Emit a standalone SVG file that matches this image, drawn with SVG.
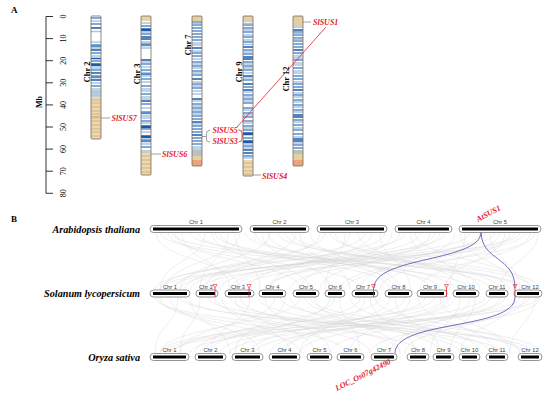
<svg xmlns="http://www.w3.org/2000/svg" width="550" height="399" viewBox="0 0 550 399">
<style>
.lab{font-family:"Liberation Serif",serif;font-weight:bold;fill:#000}
.ax{font-family:"Liberation Serif",serif;font-size:8px;fill:#000;text-anchor:middle}
.gene{font-family:"Liberation Serif",serif;font-weight:bold;font-style:italic;font-size:8px;fill:#e3202c}
.sp{font-family:"Liberation Serif",serif;font-weight:bold;font-style:italic;font-size:10.2px;text-anchor:end;fill:#000}
.cl{font-family:"Liberation Sans",Arial,sans-serif;font-size:5.8px;fill:#444;text-anchor:middle}
.cb{fill:none;stroke:#7a6a5a;stroke-width:0.8}
.d{stroke:#1c5aa6;stroke-width:1.3;fill:none}
.m{stroke:#5b8fca;stroke-width:1.3;fill:none}
.l{stroke:#aac6e4;stroke-width:1.3;fill:none}
.u{stroke:#d2b283;stroke-width:1;fill:none}
.bo{fill:#fff;stroke:#666;stroke-width:0.7}
.bi{fill:#000}
.syn{fill:none;stroke:#d4d4d4;stroke-width:0.5;opacity:0.75}
.blue{fill:none;stroke:#4a4ab0;stroke-width:0.8}
.tri{fill:none;stroke:#e3202c;stroke-width:0.6}
.gl{stroke:#777;stroke-width:0.7;fill:none}
.rl{stroke:#e3202c;stroke-width:0.8;fill:none}
</style>
<rect width="550" height="399" fill="#fff"/>

<!-- Panel A -->
<text class="lab" x="11" y="13" font-size="9">A</text>
<g id="axis">
<path d="M46 16.5V193.3M46 16.5h7M46 38.6h7M46 60.7h7M46 82.8h7M46 104.9h7M46 127h7M46 149.1h7M46 171.2h7M46 193.3h7" stroke="#000" stroke-width="0.8" fill="none"/>
<text class="ax" transform="translate(66,16.5) rotate(-90)">0</text>
<text class="ax" transform="translate(66,38.6) rotate(-90)">10</text>
<text class="ax" transform="translate(66,60.7) rotate(-90)">20</text>
<text class="ax" transform="translate(66,82.8) rotate(-90)">30</text>
<text class="ax" transform="translate(66,104.9) rotate(-90)">40</text>
<text class="ax" transform="translate(66,127) rotate(-90)">50</text>
<text class="ax" transform="translate(66,149.1) rotate(-90)">60</text>
<text class="ax" transform="translate(66,171.2) rotate(-90)">70</text>
<text class="ax" transform="translate(66,193.3) rotate(-90)">80</text>
<text class="lab" font-size="8" text-anchor="middle" transform="translate(42,102) rotate(-90)">Mb</text>
</g>

<g id="chrA2">
<rect x="91" y="16" width="10" height="123" fill="#fff"/>
<rect x="91" y="97" width="10" height="42" fill="#ecd9b0"/>
<rect x="91" y="90" width="10" height="7" fill="#c3cfd8"/>
<path class="d" d="M91 28h10M91 50h10M91 58.5h10M91 64h10M91 65.5h10M91 73h10M91 80h10"/>
<path class="m" d="M91 18h10M91 24h10M91 45h10M91 46.5h10M91 53h10M91 61h10M91 70h10M91 76h10M91 77.5h10M91 86h10"/>
<path class="l" d="M91 21h10M91 31.5h10M91 42h10M91 48h10M91 56h10M91 68h10M91 83h10M91 89h10M91 92h10M91 95h10"/>
<path class="u" d="M91 100h10M91 103h10M91 107h10M91 111h10M91 114h10M91 116.5h10M91 118h10M91 121h10M91 125h10M91 129h10M91 132h10M91 136h10"/>
<rect class="cb" x="91" y="16" width="10" height="123" rx="1"/>
<text class="lab" font-size="8.5" text-anchor="middle" transform="translate(90,72) rotate(-90)">Chr 2</text>
</g>

<g id="chrA3">
<rect x="141" y="16" width="10" height="159" fill="#fff"/>
<rect x="141" y="16" width="10" height="5" fill="#e6d3a8"/>
<rect x="141" y="153" width="10" height="22" fill="#ecd9b0"/>
<rect x="141" y="150" width="10" height="3" fill="#c3cfd8"/>
<path class="d" d="M141 29h10M141 30.5h10M141 37h10M141 39h10M141 60h10M141 74h10M141 101h10M141 126h10M141 127.5h10M141 136h10M141 137.5h10"/>
<path class="m" d="M141 26h10M141 34h10M141 44h10M141 45.5h10M141 64h10M141 70h10M141 79h10M141 86h10M141 94h10M141 104h10M141 112h10M141 113.5h10M141 121h10M141 129h10M141 140h10M141 141.5h10M141 147h10"/>
<path class="l" d="M141 23h10M141 32h10M141 42h10M141 48h10M141 62h10M141 67h10M141 72.5h10M141 76h10M141 82h10M141 89h10M141 91h10M141 97h10M141 99h10M141 108h10M141 116h10M141 118h10M141 123h10M141 132h10M141 144h10"/>
<path class="u" d="M141 156h10M141 160h10M141 164h10M141 168h10M141 172h10"/>
<rect class="cb" x="141" y="16" width="10" height="159" rx="1"/>
<text class="lab" font-size="8.5" text-anchor="middle" transform="translate(139.5,74) rotate(-90)">Chr 3</text>
</g>

<g id="chrA7">
<rect x="192" y="16" width="10" height="150" fill="#fff"/>
<rect x="192" y="16" width="10" height="5" fill="#e3cfa3"/>
<rect x="192" y="150" width="10" height="6" fill="#b8c0c0"/>
<rect x="192" y="156" width="10" height="4" fill="#e6cfa0"/>
<rect x="192" y="160" width="10" height="6" fill="#eea27a"/>
<path class="d" d="M192 48h10M192 79h10M192 99h10M192 122h10M192 135h10"/>
<path class="m" d="M192 22h10M192 25h10M192 28h10M192 31h10M192 34h10M192 37h10M192 40h10M192 53h10M192 56h10M192 62h10M192 66h10M192 71h10M192 75h10M192 84h10M192 88h10M192 104h10M192 108h10M192 112h10M192 116h10M192 119h10M192 126h10M192 129h10M192 132h10M192 138h10M192 141h10M192 144h10"/>
<path class="l" d="M192 23.5h10M192 43h10M192 45h10M192 51h10M192 59h10M192 64h10M192 68h10M192 73h10M192 82h10M192 86h10M192 91h10M192 94h10M192 101h10M192 106h10M192 110h10M192 114h10M192 124h10M192 147h10M192 149h10"/>
<rect class="cb" x="192" y="16" width="10" height="150" rx="1"/>
<text class="lab" font-size="8.5" text-anchor="middle" transform="translate(191,45) rotate(-90)">Chr 7</text>
</g>

<g id="chrA9">
<rect x="243" y="16" width="10" height="160" fill="#fff"/>
<rect x="243" y="16" width="10" height="6" fill="#e3cfa3"/>
<rect x="243" y="160" width="10" height="16" fill="#ecd9b0"/>
<path class="d" d="M243 47h10M243 57h10M243 59h10M243 76h10M243 84h10M243 90h10M243 133h10M243 134.5h10M243 141h10M243 142.5h10M243 150h10M243 153h10"/>
<path class="m" d="M243 25h10M243 28h10M243 32h10M243 37h10M243 42h10M243 50h10M243 54h10M243 62h10M243 66h10M243 70h10M243 80h10M243 87h10M243 95h10M243 99h10M243 103h10M243 108h10M243 113h10M243 117h10M243 121h10M243 126h10M243 130h10M243 138h10M243 146h10M243 156h10"/>
<path class="l" d="M243 23.5h10M243 30h10M243 35h10M243 40h10M243 44.5h10M243 52h10M243 64h10M243 68h10M243 73h10M243 78h10M243 92h10M243 97h10M243 101h10M243 110h10M243 115h10M243 123h10M243 128h10M243 144h10M243 148h10M243 158h10"/>
<path class="u" d="M243 163h10M243 167h10M243 171h10M243 174h10"/>
<rect class="cb" x="243" y="16" width="10" height="160" rx="1"/>
<text class="lab" font-size="8.5" text-anchor="middle" transform="translate(241.5,72) rotate(-90)">Chr 9</text>
</g>

<g id="chrA12">
<rect x="293" y="16" width="10" height="150" fill="#fff"/>
<rect x="293" y="16" width="10" height="10" fill="#e3cfa3"/>
<rect x="293" y="26" width="10" height="2" fill="#c3cfd8"/>
<rect x="293" y="150" width="10" height="4" fill="#b5c7b3"/>
<rect x="293" y="154" width="10" height="6" fill="#e6cfa0"/>
<rect x="293" y="160" width="10" height="6" fill="#eea27a"/>
<path class="d" d="M293 30h10M293 50h10M293 90h10M293 115h10M293 117h10M293 139h10M293 141h10"/>
<path class="m" d="M293 32h10M293 35h10M293 38h10M293 41h10M293 44h10M293 47h10M293 53h10M293 60h10M293 68h10M293 76h10M293 79h10M293 84h10M293 87h10M293 95h10M293 100h10M293 105h10M293 110h10M293 120h10M293 125h10M293 130h10M293 134h10M293 145h10M293 148h10"/>
<path class="l" d="M293 33.5h10M293 39.5h10M293 56h10M293 58h10M293 63h10M293 65h10M293 71h10M293 73h10M293 82h10M293 93h10M293 97h10M293 102h10M293 107h10M293 112h10M293 122h10M293 128h10M293 137h10M293 143h10"/>
<rect class="cb" x="293" y="16" width="10" height="150" rx="1"/>
<text class="lab" font-size="8.5" text-anchor="middle" transform="translate(288.5,79) rotate(-90)">Chr 12</text>
</g>

<g id="genesA">
<path class="gl" d="M101 118h9M151 154h10M303 22h8M253 175h8"/>
<text class="gene" x="111.5" y="121">SlSUS7</text>
<text class="gene" x="162" y="157">SlSUS6</text>
<text class="gene" x="313" y="25">SlSUS1</text>
<text class="gene" x="262" y="178.5">SlSUS4</text>
<text class="gene" x="212.5" y="133">SlSUS5</text>
<text class="gene" x="212.5" y="144">SlSUS3</text>
<path class="gl" d="M202 136.5h4M210 130.5Q206.5 130.5 206.5 133V140Q206.5 142 210 142"/>
<path class="rl" d="M238.5 130Q242 130 242 133V139Q242 142 238.5 142M242 136h1"/>
<path class="rl" d="M237 127L326 27"/>
</g>

<!-- Panel B -->
<text class="lab" x="11" y="222" font-size="9">B</text>
<text class="sp" x="140" y="232.5">Arabidopsis thaliana</text>
<text class="sp" x="140" y="296.5">Solanum lycopersicum</text>
<text class="sp" x="140" y="360.5">Oryza sativa</text>

<g id="connectors">
<path class="syn" d="M160 232.5C160 261 470 261 470 290M175 232.5C175 261 300 261 300 290M190 232.5C190 261 520 261 520 290M205 232.5C205 261 160 261 160 290M220 232.5C220 261 390 261 390 290M235 232.5C235 261 260 261 260 290M255 232.5C255 261 430 261 430 290M270 232.5C270 261 180 261 180 290M285 232.5C285 261 500 261 500 290M300 232.5C300 261 350 261 350 290M320 232.5C320 261 210 261 210 290M335 232.5C335 261 480 261 480 290M350 232.5C350 261 270 261 270 290M365 232.5C365 261 160 261 160 290M380 232.5C380 261 410 261 410 290M400 232.5C400 261 230 261 230 290M415 232.5C415 261 530 261 530 290M430 232.5C430 261 320 261 320 290M445 232.5C445 261 190 261 190 290M465 232.5C465 261 450 261 450 290M480 232.5C480 261 290 261 290 290M495 232.5C495 261 170 261 170 290M510 232.5C510 261 380 261 380 290M525 232.5C525 261 240 261 240 290M538 232.5C538 261 500 261 500 290M168 232.5C168 261 360 261 360 290M198 232.5C198 261 440 261 440 290M228 232.5C228 261 200 261 200 290M262 232.5C262 261 330 261 330 290M292 232.5C292 261 510 261 510 290M325 232.5C325 261 175 261 175 290M358 232.5C358 261 460 261 460 290M392 232.5C392 261 300 261 300 290M420 232.5C420 261 220 261 220 290M455 232.5C455 261 360 261 360 290M490 232.5C490 261 520 261 520 290M515 232.5C515 261 200 261 200 290M530 232.5C530 261 420 261 420 290M245 232.5C245 261 490 261 490 290M310 232.5C310 261 400 261 400 290M372 232.5C372 261 250 261 250 290M440 232.5C440 261 270 261 270 290M470 232.5C470 261 180 261 180 290M182 232.5C182 261 230 261 230 290M212 232.5C212 261 310 261 310 290M278 232.5C278 261 535 261 535 290M405 232.5C405 261 155 261 155 290M500 232.5C500 261 340 261 340 290"/>
<path class="syn" d="M156 232.5C156 261 240 261 240 290M172 232.5C172 261 525 261 525 290M215 232.5C215 261 455 261 455 290M240 232.5C240 261 165 261 165 290M268 232.5C268 261 395 261 395 290M296 232.5C296 261 205 261 205 290M330 232.5C330 261 540 261 540 290M345 232.5C345 261 325 261 325 290M385 232.5C385 261 185 261 185 290M410 232.5C410 261 470 261 470 290M435 232.5C435 261 235 261 235 290M460 232.5C460 261 515 261 515 290M485 232.5C485 261 265 261 265 290M505 232.5C505 261 445 261 445 290M520 232.5C520 261 160 261 160 290M535 232.5C535 261 345 261 345 290"/>
<path class="syn" d="M155 297C155 325 420 325 420 353.5M170 297C170 325 260 325 260 353.5M185 297C185 325 500 325 500 353.5M200 297C200 325 180 325 180 353.5M215 297C215 325 370 325 370 353.5M230 297C230 325 460 325 460 353.5M250 297C250 325 210 325 210 353.5M265 297C265 325 330 325 330 353.5M280 297C280 325 520 325 520 353.5M300 297C300 325 160 325 160 353.5M315 297C315 325 400 325 400 353.5M330 297C330 325 240 325 240 353.5M350 297C350 325 480 325 480 353.5M365 297C365 325 300 325 300 353.5M380 297C380 325 175 325 175 353.5M395 297C395 325 440 325 440 353.5M410 297C410 325 350 325 350 353.5M425 297C425 325 200 325 200 353.5M440 297C440 325 510 325 510 353.5M455 297C455 325 280 325 280 353.5M470 297C470 325 390 325 390 353.5M485 297C485 325 165 325 165 353.5M500 297C500 325 330 325 330 353.5M515 297C515 325 460 325 460 353.5M530 297C530 325 230 325 230 353.5M540 297C540 325 370 325 370 353.5M160 297C160 325 300 325 300 353.5M190 297C190 325 230 325 230 353.5M240 297C240 325 400 325 400 353.5M275 297C275 325 180 325 180 353.5M305 297C305 325 490 325 490 353.5M340 297C340 325 360 325 360 353.5M375 297C375 325 520 325 520 353.5M405 297C405 325 250 325 250 353.5M435 297C435 325 160 325 160 353.5M460 297C460 325 430 325 430 353.5M490 297C490 325 300 325 300 353.5M520 297C520 325 190 325 190 353.5M535 297C535 325 510 325 510 353.5M222 297C222 325 290 325 290 353.5M290 297C290 325 440 325 440 353.5M360 297C360 325 210 325 210 353.5M180 297C180 325 535 325 535 353.5M450 297C450 325 270 325 270 353.5"/>
<path class="syn" d="M158 297C158 325 345 325 345 353.5M178 297C178 325 155 325 155 353.5M208 297C208 325 525 325 525 353.5M235 297C235 325 315 325 315 353.5M258 297C258 325 470 325 470 353.5M285 297C285 325 235 325 235 353.5M310 297C310 325 540 325 540 353.5M335 297C335 325 195 325 195 353.5M370 297C370 325 415 325 415 353.5M390 297C390 325 285 325 285 353.5M418 297C418 325 495 325 495 353.5M445 297C445 325 220 325 220 353.5M475 297C475 325 450 325 450 353.5M505 297C505 325 255 325 255 353.5M525 297C525 325 405 325 405 353.5M538 297C538 325 170 325 170 353.5"/>
<path class="blue" d="M481 232C481 262 374 256 374 288M481 232C482 262 515 256 515 288M515 297C515 330 395 320 395 353"/>
</g>

<g id="rowAt">
<rect class="bo" x="150" y="225.5" width="92" height="7" rx="3.5"/><rect class="bi" x="153" y="227.5" width="86" height="3"/><text class="cl" x="196" y="224">Chr 1</text>
<rect class="bo" x="250" y="225.5" width="59" height="7" rx="3.5"/><rect class="bi" x="253" y="227.5" width="53" height="3"/><text class="cl" x="279.5" y="224">Chr 2</text>
<rect class="bo" x="317" y="225.5" width="70" height="7" rx="3.5"/><rect class="bi" x="320" y="227.5" width="64" height="3"/><text class="cl" x="352" y="224">Chr 3</text>
<rect class="bo" x="395" y="225.5" width="57" height="7" rx="3.5"/><rect class="bi" x="398" y="227.5" width="51" height="3"/><text class="cl" x="423.5" y="224">Chr 4</text>
<rect class="bo" x="459" y="225.5" width="82" height="7" rx="3.5"/><rect class="bi" x="462" y="227.5" width="76" height="3"/><text class="cl" x="500" y="224">Chr 5</text>
</g>

<g id="rowSl">
<rect class="bo" x="150" y="290" width="40" height="7" rx="3.5"/><rect class="bi" x="153" y="292" width="34" height="3"/><text class="cl" x="170" y="288.5">Chr 1</text>
<rect class="bo" x="196" y="290" width="22" height="7" rx="3.5"/><rect class="bi" x="199" y="292" width="16" height="3"/><text class="cl" x="206" y="288.5">Chr 2</text>
<rect class="bo" x="225" y="290" width="29" height="7" rx="3.5"/><rect class="bi" x="228" y="292" width="23" height="3"/><text class="cl" x="238" y="288.5">Chr 3</text>
<rect class="bo" x="259" y="290" width="27" height="7" rx="3.5"/><rect class="bi" x="262" y="292" width="21" height="3"/><text class="cl" x="272.5" y="288.5">Chr 4</text>
<rect class="bo" x="293" y="290" width="26" height="7" rx="3.5"/><rect class="bi" x="296" y="292" width="20" height="3"/><text class="cl" x="306" y="288.5">Chr 5</text>
<rect class="bo" x="325" y="290" width="20" height="7" rx="3.5"/><rect class="bi" x="328" y="292" width="14" height="3"/><text class="cl" x="335" y="288.5">Chr 6</text>
<rect class="bo" x="352" y="290" width="26" height="7" rx="3.5"/><rect class="bi" x="355" y="292" width="20" height="3"/><text class="cl" x="363" y="288.5">Chr 7</text>
<rect class="bo" x="385" y="290" width="27" height="7" rx="3.5"/><rect class="bi" x="388" y="292" width="21" height="3"/><text class="cl" x="398.5" y="288.5">Chr 8</text>
<rect class="bo" x="417" y="290" width="30" height="7" rx="3.5"/><rect class="bi" x="420" y="292" width="24" height="3"/><text class="cl" x="430" y="288.5">Chr 9</text>
<rect class="bo" x="453" y="290" width="26" height="7" rx="3.5"/><rect class="bi" x="456" y="292" width="20" height="3"/><text class="cl" x="466" y="288.5">Chr 10</text>
<rect class="bo" x="486" y="290" width="22" height="7" rx="3.5"/><rect class="bi" x="489" y="292" width="16" height="3"/><text class="cl" x="497" y="288.5">Chr 11</text>
<rect class="bo" x="514" y="290" width="28" height="7" rx="3.5"/><rect class="bi" x="517" y="292" width="22" height="3"/><text class="cl" x="530" y="288.5">Chr 12</text>
</g>

<g id="rowOs">
<rect class="bo" x="150" y="353.5" width="39" height="7" rx="3.5"/><rect class="bi" x="153" y="355.5" width="33" height="3"/><text class="cl" x="169.5" y="352">Chr 1</text>
<rect class="bo" x="195" y="353.5" width="31" height="7" rx="3.5"/><rect class="bi" x="198" y="355.5" width="25" height="3"/><text class="cl" x="210.5" y="352">Chr 2</text>
<rect class="bo" x="232" y="353.5" width="31" height="7" rx="3.5"/><rect class="bi" x="235" y="355.5" width="25" height="3"/><text class="cl" x="247.5" y="352">Chr 3</text>
<rect class="bo" x="269" y="353.5" width="31" height="7" rx="3.5"/><rect class="bi" x="272" y="355.5" width="25" height="3"/><text class="cl" x="284.5" y="352">Chr 4</text>
<rect class="bo" x="307" y="353.5" width="25" height="7" rx="3.5"/><rect class="bi" x="310" y="355.5" width="19" height="3"/><text class="cl" x="319.5" y="352">Chr 5</text>
<rect class="bo" x="337" y="353.5" width="27" height="7" rx="3.5"/><rect class="bi" x="340" y="355.5" width="21" height="3"/><text class="cl" x="350.5" y="352">Chr 6</text>
<rect class="bo" x="371" y="353.5" width="26" height="7" rx="3.5"/><rect class="bi" x="374" y="355.5" width="20" height="3"/><text class="cl" x="384" y="352">Chr 7</text>
<rect class="bo" x="407" y="353.5" width="22" height="7" rx="3.5"/><rect class="bi" x="410" y="355.5" width="16" height="3"/><text class="cl" x="418" y="352">Chr 8</text>
<rect class="bo" x="433" y="353.5" width="21" height="7" rx="3.5"/><rect class="bi" x="436" y="355.5" width="15" height="3"/><text class="cl" x="443.5" y="352">Chr 9</text>
<rect class="bo" x="459" y="353.5" width="21" height="7" rx="3.5"/><rect class="bi" x="462" y="355.5" width="15" height="3"/><text class="cl" x="469.5" y="352">Chr 10</text>
<rect class="bo" x="486" y="353.5" width="22" height="7" rx="3.5"/><rect class="bi" x="489" y="355.5" width="16" height="3"/><text class="cl" x="497" y="352">Chr 11</text>
<rect class="bo" x="518" y="353.5" width="24" height="7" rx="3.5"/><rect class="bi" x="521" y="355.5" width="18" height="3"/><text class="cl" x="530" y="352">Chr 12</text>
</g>

<g id="markers">
<path class="tri" d="M213 284.5h4l-2 3.5zM247 284.5h4l-2 3.5zM371.5 284.5h4l-2 3.5zM444.5 284.5h4l-2 3.5zM513 284.5h4l-2 3.5z"/>
<path class="rl" stroke-width="0.6" d="M215 288V297M249 288V297M373.5 288V297M446.5 288V297M515 288V297"/>
<text class="gene" transform="translate(478,222) rotate(-28)">AtSUS1</text>
<text class="gene" transform="translate(337,391) rotate(-27)">LOC_Os07g42490</text>
</g>
</svg>
